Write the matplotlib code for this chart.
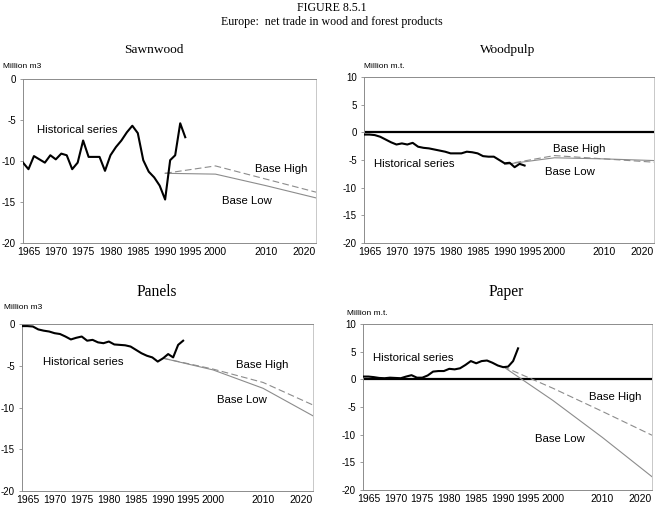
import numpy as np
import matplotlib
matplotlib.use("Agg")
from matplotlib import pyplot as plt

plt.rcParams["font.family"] = "Liberation Sans"
plt.rcParams["axes.unicode_minus"] = False

HIST_YEARS = list(range(1964, 1995))
PAPER_YEARS = list(range(1964, 1994))
PROJ_YEARS = [1990, 2000, 2010, 2020]
TICK_YEARS = [1965, 1970, 1975, 1980, 1985, 1990, 1995, 2000, 2010, 2020]

sawnwood_hist = [-10.2, -11.0, -9.4, -9.8, -10.2, -9.3, -9.8, -9.1, -9.3, -11.0,
                 -10.2, -7.5, -9.5, -9.5, -9.5, -11.2, -9.3, -8.3, -7.5, -6.5,
                 -5.7, -6.6, -9.9, -11.3, -12.0, -13.0, -14.7, -9.9, -9.3, -5.4, -7.1]
sawnwood_high = [-11.5, -10.6, -12.2, -13.8]
sawnwood_low = [-11.5, -11.6, -13.0, -14.5]

woodpulp_hist = [-0.4, -0.4, -0.5, -0.8, -1.3, -1.8, -2.2, -2.0, -2.2, -1.9,
                 -2.6, -2.8, -2.9, -3.1, -3.3, -3.5, -3.8, -3.8, -3.8, -3.5,
                 -3.6, -3.8, -4.3, -4.4, -4.4, -5.0, -5.6, -5.5, -6.3, -5.7, -6.0]
woodpulp_high = [-5.8, -4.2, -4.8, -5.4]
woodpulp_low = [-5.8, -4.6, -4.8, -5.1]

panels_hist = [-0.25, -0.25, -0.3, -0.65, -0.8, -0.9, -1.1, -1.2, -1.5, -1.85,
               -1.65, -1.5, -2.0, -1.9, -2.2, -2.3, -2.1, -2.45, -2.5, -2.55,
               -2.7, -3.1, -3.5, -3.8, -4.0, -4.5, -4.1, -3.6, -4.0, -2.5, -2.0]
panels_high = [-4.1, -5.4, -7.0, -9.7]
panels_low = [-4.1, -5.5, -7.7, -11.0]

paper_hist = [0.5, 0.5, 0.4, 0.25, 0.2, 0.3, 0.25, 0.2, 0.5, 0.75,
              0.3, 0.3, 0.7, 1.4, 1.5, 1.5, 1.9, 1.8, 2.0, 2.6,
              3.3, 2.9, 3.3, 3.4, 3.0, 2.5, 2.2, 2.3, 3.3, 5.6]
paper_high = [2.3, -1.6, -5.8, -10.1]
paper_low = [2.3, -3.8, -10.5, -17.6]

# projection years are drawn a bit tighter than the historical ones
SQUEEZE = 0.92


def fwd(x):
    x = np.asarray(x, dtype=float)
    return np.where(x <= 1990, x, 1990 + (x - 1990) * SQUEEZE)


def inv(x):
    x = np.asarray(x, dtype=float)
    return np.where(x <= 1990, x, 1990 + (x - 1990) / SQUEEZE)


GREY = "#8c8c8c"


def draw_panel(ax, years, hist, high, low, ylim, unit, zero_line, labels):
    ax.set_xscale("function", functions=(fwd, inv))
    if zero_line:
        ax.axhline(0, color="black", lw=1.6, zorder=1)
    ax.plot(PROJ_YEARS, high, color=GREY, lw=0.8, dashes=(6, 3), zorder=2)
    ax.plot(PROJ_YEARS, low, color=GREY, lw=0.8, zorder=2)
    ax.plot(years, hist, color="black", lw=1.5, zorder=3)

    ax.set_xlim(1964, 2020)
    ax.set_ylim(*ylim)
    ax.set_yticks(np.arange(ylim[0], ylim[1] + 1, 5))
    ax.set_xticks(TICK_YEARS)
    ax.set_xticklabels([str(y) for y in TICK_YEARS])
    # last label sits inside the frame, as in the original
    ax.get_xticklabels()[-1].set_ha("right")
    ax.tick_params(axis="x", length=0, pad=3, labelsize=7.5)
    ax.tick_params(axis="y", length=2.5, width=0.6, color=GREY, pad=2.5, labelsize=7)
    for side in ["left", "right", "top", "bottom"]:
        ax.spines[side].set_color(GREY)
        ax.spines[side].set_linewidth(0.7)
    ax.spines["right"].set_color("#c8c8c8")

    ux, uy = unit[1]
    ax.text(ux, uy, unit[0], transform=ax.transAxes, fontsize=6,
            ha="left", va="center")
    for txt, x, y in labels:
        ax.text(x, y, txt, transform=ax.transAxes, fontsize=8.2,
                ha="left", va="center")


fig = plt.figure(figsize=(6.64, 5.12), dpi=100)
W, H = 664, 512


def box(left, right, top, bottom):
    return [left / W, 1 - bottom / H, (right - left) / W, (bottom - top) / H]


ax1 = fig.add_axes(box(23, 316, 79, 243))
ax2 = fig.add_axes(box(364, 654, 77, 243))
ax3 = fig.add_axes(box(22, 313, 324, 491))
ax4 = fig.add_axes(box(363, 652, 324, 490))

draw_panel(ax1, HIST_YEARS, sawnwood_hist, sawnwood_high, sawnwood_low, (-20, 0),
           ("Million m3", (-0.068, 1.079)), False,
           [("Historical series", 0.048, 0.689),
            ("Base High", 0.792, 0.451),
            ("Base Low", 0.679, 0.256)])
draw_panel(ax2, HIST_YEARS, woodpulp_hist, woodpulp_high, woodpulp_low, (-20, 10),
           ("Million m.t.", (0.0, 1.066)), True,
           [("Historical series", 0.034, 0.476),
            ("Base High", 0.652, 0.566),
            ("Base Low", 0.624, 0.428)])
draw_panel(ax3, HIST_YEARS, panels_hist, panels_high, panels_low, (-20, 0),
           ("Million m3", (-0.062, 1.096)), False,
           [("Historical series", 0.072, 0.772),
            ("Base High", 0.735, 0.754),
            ("Base Low", 0.670, 0.545)])
draw_panel(ax4, PAPER_YEARS, paper_hist, paper_high, paper_low, (-20, 10),
           ("Million m.t.", (-0.055, 1.066)), True,
           [("Historical series", 0.035, 0.795),
            ("Base High", 0.782, 0.560),
            ("Base Low", 0.595, 0.307)])

serif = "Liberation Serif"
fig.text(332 / W, 1 - 8 / H, "FIGURE 8.5.1", family=serif, fontsize=8.6,
         ha="center", va="center")
fig.text(332 / W, 1 - 22 / H, "Europe:  net trade in wood and forest products",
         family=serif, fontsize=8.6, ha="center", va="center")
fig.text(154 / W, 1 - 50 / H, "Sawnwood", family=serif, fontsize=9.6,
         ha="center", va="center")
fig.text(508 / W, 1 - 50 / H, "Woodpulp", family=serif, fontsize=9.6,
         ha="center", va="center")
fig.text(157 / W, 1 - 292 / H, "Panels", family=serif, fontsize=11.2,
         ha="center", va="center")
fig.text(506 / W, 1 - 292 / H, "Paper", family=serif, fontsize=11.2,
         ha="center", va="center")

fig.savefig("out.png", dpi=100)
